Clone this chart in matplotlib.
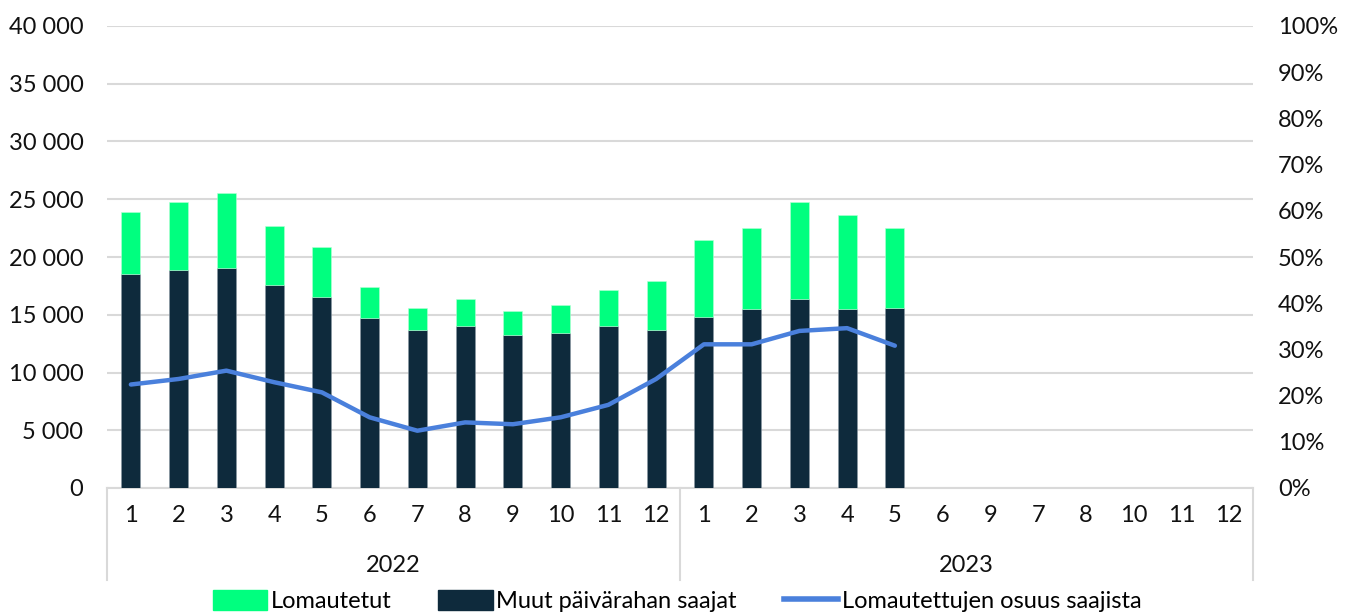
import numpy as np
import matplotlib.pyplot as plt
from matplotlib.patches import Patch
from matplotlib.lines import Line2D
from matplotlib.ticker import FuncFormatter, PercentFormatter
import matplotlib.transforms as mtransforms

plt.rcParams['font.family'] = ['Lato', 'DejaVu Sans']

kuukaudet = ['1', '2', '3', '4', '5', '6', '7', '8', '9', '10', '11', '12',
             '1', '2', '3', '4', '5', '6', '9', '7', '8', '10', '11', '12']
vuodet = ['2022', '2023']

muut = [18530, 18900, 19080, 17580, 16570, 14750, 13650, 14030, 13280, 13420, 14060, 13650,
        14830, 15530, 16360, 15500, 15610]
lomautetut = [5370, 5860, 6440, 5110, 4330, 2660, 1930, 2340, 2080, 2400, 3060, 4270,
              6610, 6980, 8400, 8140, 6900]
osuus = [22.4, 23.6, 25.4, 22.9, 20.7, 15.3, 12.4, 14.2, 13.8, 15.3, 18.0, 23.6,
         31.1, 31.1, 34.0, 34.6, 30.8]

vihrea = '#00FF7F'
tumma = '#0E2A3C'
sininen = '#4A80DC'
harmaa = '#D9D9D9'
fs = 17

fig = plt.figure(figsize=(13.54, 6.14), dpi=100)
ax = fig.add_axes([107/1354, 1 - 488/614, (1253 - 107)/1354, (488 - 26)/614])

x = np.arange(len(muut))
ax.bar(x, muut, width=0.4, color=tumma, edgecolor='#8a98a3', linewidth=0.4, zorder=3)
ax.bar(x, lomautetut, bottom=muut, width=0.4, color=vihrea, edgecolor='#b5ffd6', linewidth=0.4, zorder=3)

ax.set_xlim(-0.5, len(kuukaudet) - 0.5)
ax.set_ylim(0, 40000)
ax.set_yticks(np.arange(0, 40001, 5000))
ax.yaxis.set_major_formatter(FuncFormatter(lambda v, p: f'{int(v):,}'.replace(',', ' ')))
ax.yaxis.grid(True, color=harmaa, linewidth=1.5, zorder=0)
ax.set_axisbelow(True)
for s in ['top', 'right', 'left']:
    ax.spines[s].set_visible(False)
ax.spines['bottom'].set_color(harmaa)
ax.spines['bottom'].set_linewidth(1.5)
ax.tick_params(axis='y', length=0, pad=17, labelsize=fs, colors='#111111')
ax.set_xticks(np.arange(len(kuukaudet)))
ax.set_xticklabels(kuukaudet)
ax.tick_params(axis='x', length=0, pad=12, labelsize=fs, colors='#111111')

# vuosiryhmat
trans = mtransforms.blended_transform_factory(ax.transData, ax.transAxes)
alaraja = -(580 - 488) / 462
for xv in [-0.5, 11.5, 23.5]:
    ax.plot([xv, xv], [0, alaraja], color=harmaa, linewidth=1.5, transform=trans, clip_on=False)
for i, v in enumerate(vuodet):
    ax.text(5.5 + 12 * i, -(565 - 488) / 462, v, transform=trans, ha='center', va='center',
            fontsize=fs, color='#111111')

ax2 = ax.twinx()
ax2.plot(x, osuus, color=sininen, linewidth=3.2, solid_capstyle='round', zorder=4)
ax2.set_ylim(0, 100)
ax2.set_yticks(np.arange(0, 101, 10))
ax2.yaxis.set_major_formatter(PercentFormatter(decimals=0))
ax2.tick_params(axis='y', length=0, pad=18, labelsize=fs, colors='#111111')
for s in ['top', 'right', 'left', 'bottom']:
    ax2.spines[s].set_visible(False)

kahvat = [Patch(color=vihrea), Patch(color=tumma), Line2D([0], [0], color=sininen, linewidth=4)]
fig.legend(kahvat, ['Lomautetut', 'Muut päivärahan saajat', 'Lomautettujen osuus saajista'],
           loc='center', bbox_to_anchor=(0.5, 1 - 601/614), ncol=3, frameon=False,
           fontsize=fs, handlelength=2.3, handleheight=0.9, columnspacing=2.0, handletextpad=0.15)

fig.savefig('out.png', dpi=100)
